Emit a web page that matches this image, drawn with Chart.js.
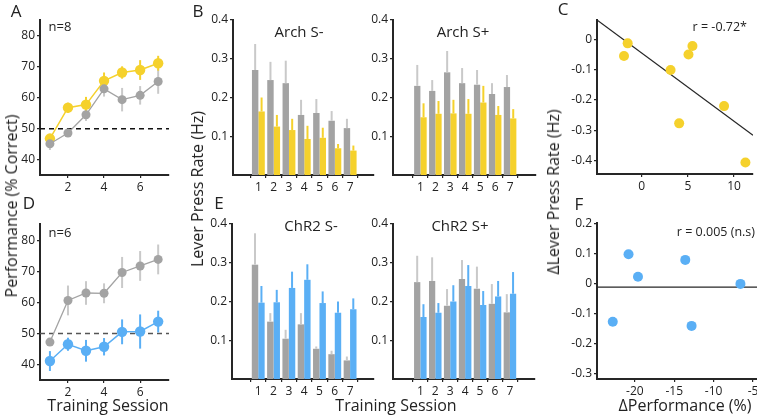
<!DOCTYPE html>
<html><head><meta charset="utf-8">
<script src="https://cdn.jsdelivr.net/npm/chart.js@4.4.1/dist/chart.umd.min.js"></script>
<style>
html,body{margin:0;padding:0;background:#fff;overflow:hidden;width:757px;height:417px;position:relative;}
canvas{position:absolute;}
.t{position:absolute;font-family:'Open Sans',sans-serif;color:#222;white-space:nowrap;line-height:1;}
</style></head><body>
<script>
// ---------- DATA ----------
const sessions = [1, 2, 3, 4, 5, 6, 7];
const chanceLevel = 50;

// Panel A: performance (% correct), Arch group
const perfArchCtrl    = [45.1, 48.6, 54.5, 62.9, 59.4, 60.8, 65.3];
const perfArchCtrlErr = [2.0, 1.2, 2.0, 2.5, 3.8, 3.0, 4.0];
const perfArch        = [46.8, 56.8, 57.8, 65.5, 68.2, 69.0, 71.2];
const perfArchErr     = [1.2, 1.6, 2.5, 2.7, 2.0, 3.2, 2.4];
// Panel D: performance, ChR2 group
const perfChR2Ctrl    = [47.2, 60.6, 63.0, 62.9, 69.6, 71.7, 73.8];
const perfChR2CtrlErr = [1.0, 4.8, 3.8, 3.2, 5.0, 4.8, 4.8];
const perfChR2        = [41.1, 46.5, 44.4, 45.7, 50.5, 50.6, 53.8];
const perfChR2Err     = [3.2, 2.1, 3.5, 2.8, 4.0, 5.5, 3.5];

// Panel B: lever press rate (Hz)
const archSmCtrl    = [0.271, 0.245, 0.237, 0.155, 0.160, 0.140, 0.121];
const archSmCtrlErr = [0.067, 0.047, 0.058, 0.039, 0.036, 0.025, 0.024];
const archSm        = [0.164, 0.125, 0.116, 0.093, 0.096, 0.069, 0.063];
const archSmErr     = [0.036, 0.030, 0.029, 0.034, 0.026, 0.011, 0.013];
const archSpCtrl    = [0.230, 0.217, 0.265, 0.237, 0.233, 0.209, 0.227];
const archSpCtrlErr = [0.054, 0.028, 0.055, 0.039, 0.038, 0.028, 0.031];
const archSp        = [0.149, 0.158, 0.159, 0.158, 0.187, 0.155, 0.146];
const archSpErr     = [0.036, 0.033, 0.035, 0.038, 0.043, 0.023, 0.024];
// Panel E
const chr2SmCtrl    = [0.295, 0.148, 0.104, 0.141, 0.078, 0.064, 0.048];
const chr2SmCtrlErr = [0.081, 0.022, 0.023, 0.029, 0.006, 0.009, 0.010];
const chr2Sm        = [0.197, 0.198, 0.235, 0.256, 0.196, 0.171, 0.180];
const chr2SmErr     = [0.043, 0.032, 0.042, 0.040, 0.030, 0.029, 0.028];
const chr2SpCtrl    = [0.250, 0.253, 0.189, 0.258, 0.233, 0.194, 0.172];
const chr2SpCtrlErr = [0.068, 0.061, 0.043, 0.049, 0.057, 0.051, 0.047];
const chr2Sp        = [0.160, 0.171, 0.200, 0.240, 0.191, 0.213, 0.220];
const chr2SpErr     = [0.033, 0.025, 0.042, 0.054, 0.036, 0.040, 0.056];

// Panel C: Δperformance vs Δlever press (Arch)
const dPerfArch  = [-1.91, -1.51, 3.13, 4.06, 5.07, 5.50, 8.92, 11.23];
const dPressArch = [-0.055, -0.013, -0.101, -0.277, -0.050, -0.022, -0.220, -0.406];
const fitArchX = [-4.83, 12.05];
const fitArchY = [0.064, -0.316];
// Panel F (ChR2)
const dPerfChR2  = [-22.8, -20.8, -19.6, -13.6, -12.8, -6.6];
const dPressChR2 = [-0.126, 0.099, 0.024, 0.080, -0.140, 0.000];
const fitChR2X = [-24.8, -4.5];
const fitChR2Y = [-0.011, -0.011];

// tick labels
const perfYTicks = [40, 50, 60, 70, 80];
const perfXTicks = [2, 4, 6];
const rateYTicks = [0.1, 0.2, 0.3, 0.4];
const dPressYTicksC = [-0.4, -0.3, -0.2, -0.1, 0];
const dPerfXTicksC = [0, 5, 10];
const dPressYTicksF = [-0.3, -0.2, -0.1, 0, 0.1, 0.2];
const dPerfXTicksF = [-20, -15, -10, -5];

// ---------- STYLE ----------
const GRAY = '#a3a3a3', GRAY_ERR = '#c9c9c9', YEL = '#f5d12c', BLUE = '#5aaff5', INK = '#262626';
const FONT = "'Open Sans', sans-serif";

const errorBars = {
  id: 'errorBars',
  beforeDatasetsDraw(chart) { draw(chart, 'before'); },
  afterDatasetsDraw(chart) { draw(chart, 'after'); }
};
function draw(chart, layer) {
  const ctx = chart.ctx, ys = chart.scales.y;
  const ca = chart.chartArea;
  if (layer === 'before' && chart.options.plugins.refLine && chart.options.plugins.refLine.value != null) {
    const r = chart.options.plugins.refLine, py = ys.getPixelForValue(r.value);
    ctx.save(); ctx.strokeStyle = r.color; ctx.lineWidth = 1.5; ctx.setLineDash([5, 4]);
    ctx.beginPath(); ctx.moveTo(ca.left, py); ctx.lineTo(ca.right, py); ctx.stroke(); ctx.restore();
  }
  chart.data.datasets.forEach((ds, i) => {
    if (!ds.errors || ds.errLayer !== layer) return;
    const meta = chart.getDatasetMeta(i);
    ctx.save(); ctx.strokeStyle = ds.errColor; ctx.lineWidth = ds.errWidth || 2;
    meta.data.forEach((el, j) => {
      const v = ds.data[j].y, e = ds.errors[j];
      const top = ys.getPixelForValue(v + e);
      const bot = ds.errMode === 'up' ? ys.getPixelForValue(v) : ys.getPixelForValue(v - e);
      ctx.beginPath(); ctx.moveTo(el.x, top); ctx.lineTo(el.x, bot); ctx.stroke();
    });
    ctx.restore();
  });
}

function axis(min, max, ticks, isX, pad) {
  return {
    type: 'linear', min, max,
    afterBuildTicks: s => { s.ticks = ticks.map(v => ({ value: v })); },
    afterFit: s => {
      if (isX) s.height = pad.b; else s.width = pad.l;
      s.paddingLeft = s.paddingRight = s.paddingTop = s.paddingBottom = 0;
    },
    border: { display: true, color: INK, width: 2 },
    grid: { drawOnChartArea: false, drawTicks: true, tickLength: 3, color: INK, lineWidth: 1.2 },
    ticks: { color: '#222', font: { family: FONT, size: 12 }, padding: 2, autoSkip: false, maxRotation: 0 }
  };
}

function mk(area, xr, yr, xt, yt, type, datasets, extra) {
  const pad = { l: 40, b: 24, t: 8, r: 12 };
  const c = document.createElement('canvas');
  const W = area.r - area.l + pad.l + pad.r, H = area.b - area.t + pad.t + pad.b;
  c.width = W; c.height = H;
  c.style.left = (area.l - pad.l) + 'px'; c.style.top = (area.t - pad.t) + 'px';
  c.style.width = W + 'px'; c.style.height = H + 'px';
  document.body.appendChild(c);
  new Chart(c, {
    type, data: { datasets },
    options: Object.assign({
      responsive: false, animation: false, devicePixelRatio: 1,
      layout: { padding: { top: pad.t, right: pad.r, left: 0, bottom: 0 }, autoPadding: false },
      plugins: Object.assign({ legend: { display: false }, tooltip: { enabled: false } }, (extra && extra.plugins) || {}),
      scales: { x: axis(xr[0], xr[1], xt, true, pad), y: axis(yr[0], yr[1], yt, false, pad) },
      datasets: { bar: { categoryPercentage: 0.84, barPercentage: 1.0 } }
    }),
    plugins: [errorBars]
  });
}

const pts = (xs, ys) => xs.map((x, i) => ({ x, y: ys[i] }));

function lineSet(vals, errs, col, r, errCol, lw) {
  return { data: pts(sessions, vals), borderColor: col, borderWidth: lw, pointRadius: r, pointBackgroundColor: col,
    pointBorderWidth: 0, errors: errs, errColor: errCol, errMode: 'both', errLayer: 'before', errWidth: 2 };
}
function barSet(vals, errs, col, errCol) {
  return { data: pts(sessions, vals), backgroundColor: col, borderWidth: 0, errors: errs, errColor: errCol, errMode: 'up', errLayer: 'after', errWidth: 2 };
}

// Panel A
mk({ l: 40, t: 20, r: 169, b: 175 }, [0.45, 7.6], [35, 85.2], perfXTicks, perfYTicks, 'line', [
  lineSet(perfArchCtrl, perfArchCtrlErr, GRAY, 4.5, GRAY_ERR, 1.3),
  lineSet(perfArch, perfArchErr, YEL, 5.2, YEL, 1.5)
], { plugins: { refLine: { value: chanceLevel, color: '#111' } } });
// Panel D
mk({ l: 40, t: 224, r: 169, b: 380 }, [0.45, 7.6], [35, 85.2], perfXTicks, perfYTicks, 'line', [
  lineSet(perfChR2Ctrl, perfChR2CtrlErr, GRAY, 4.5, GRAY_ERR, 1.3),
  lineSet(perfChR2, perfChR2Err, BLUE, 5.2, BLUE, 1.5)
], { plugins: { refLine: { value: chanceLevel, color: '#555' } } });

// Panel B
mk({ l: 233, t: 20, r: 374, b: 175 }, [0, 7.9], [0, 0.4], sessions, rateYTicks, 'bar', [
  barSet(archSmCtrl, archSmCtrlErr, GRAY, GRAY_ERR), barSet(archSm, archSmErr, YEL, YEL)]);
mk({ l: 393, t: 20, r: 536, b: 175 }, [-0.15, 8.05], [0, 0.4], sessions, rateYTicks, 'bar', [
  barSet(archSpCtrl, archSpCtrlErr, GRAY, GRAY_ERR), barSet(archSp, archSpErr, YEL, YEL)]);
// Panel E
mk({ l: 232, t: 224, r: 374, b: 379 }, [-0.05, 7.9], [0, 0.4], sessions, rateYTicks, 'bar', [
  barSet(chr2SmCtrl, chr2SmCtrlErr, GRAY, GRAY_ERR), barSet(chr2Sm, chr2SmErr, BLUE, BLUE)]);
mk({ l: 393, t: 224, r: 535, b: 379 }, [-0.15, 8.0], [0, 0.4], sessions, rateYTicks, 'bar', [
  barSet(chr2SpCtrl, chr2SpCtrlErr, GRAY, GRAY_ERR), barSet(chr2Sp, chr2SpErr, BLUE, BLUE)]);

// Panel C
mk({ l: 597, t: 20, r: 753, b: 174 }, [-4.83, 12.05], [-0.444, 0.064], dPerfXTicksC, dPressYTicksC, 'scatter', [
  { data: pts(dPerfArch, dPressArch), pointRadius: 5, pointBackgroundColor: YEL, pointBorderWidth: 0, order: 1 },
  { type: 'line', data: pts(fitArchX, fitArchY), borderColor: INK, borderWidth: 1.2, pointRadius: 0, order: 2 }
]);
// Panel F
mk({ l: 597, t: 223, r: 757, b: 379 }, [-24.8, -4.5], [-0.317, 0.203], dPerfXTicksF, dPressYTicksF, 'scatter', [
  { data: pts(dPerfChR2, dPressChR2), pointRadius: 5, pointBackgroundColor: BLUE, pointBorderWidth: 0, order: 1 },
  { type: 'line', data: pts(fitChR2X, fitChR2Y), borderColor: INK, borderWidth: 1.2, pointRadius: 0, order: 2 }
]);

// ---------- TEXT ----------
function label(txt, x, y, size, opt) {
  opt = opt || {};
  const d = document.createElement('div');
  d.className = 't'; d.textContent = txt;
  d.style.fontSize = size + 'px';
  d.style.left = x + 'px'; d.style.top = y + 'px';
  let tr = opt.align === 'right' ? 'translate(-100%,-50%)' : 'translate(-50%,-50%)';
  if (opt.rot) tr += ' rotate(-90deg)';
  d.style.transform = tr;
  document.body.appendChild(d);
}
label('A', 16, 10, 17); label('B', 198, 10, 17); label('C', 563, 8, 17);
label('D', 29, 202, 17); label('E', 219, 202, 17); label('F', 579, 203, 17);
label('n=8', 60, 26, 13); label('n=6', 60, 232, 13);
label('Arch S-', 299, 31, 15); label('Arch S+', 463, 31, 15);
label('ChR2 S-', 311, 225, 15); label('ChR2 S+', 460, 225, 15);
label('r = -0.72*', 747, 27, 12.5, { align: 'right' });
label('r = 0.005 (n.s)', 755, 232, 12.5, { align: 'right' });
label('Performance (% Correct)', 11, 206, 16, { rot: true });
label('Lever Press Rate (Hz)', 197, 189, 16, { rot: true });
label('\u0394Lever Press Rate (Hz)', 553, 192, 16, { rot: true });
label('Training Session', 108, 405, 16);
label('Training Session', 396, 405, 16);
label('\u0394Performance (%)', 685, 405, 16);
</script>
</body></html>
